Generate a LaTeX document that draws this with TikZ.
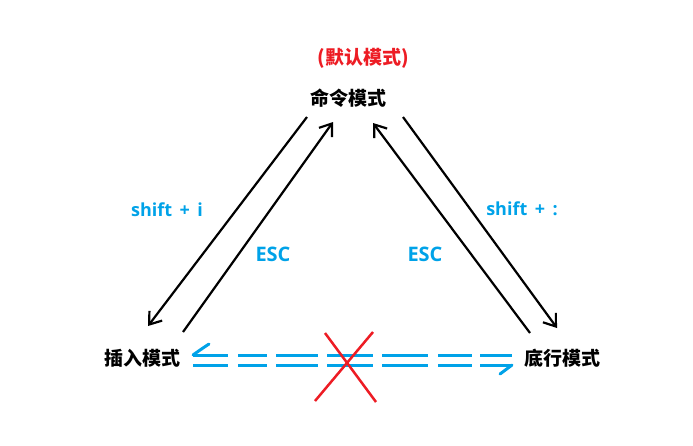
\documentclass[tikz,border=0pt]{standalone}
\usepackage{fontspec}
\setmainfont{Noto Sans CJK SC}
\newfontfamily\keyfont{Open Sans}[WordSpace=1.6]
\usetikzlibrary{arrows.meta}
\definecolor{keyblue}{RGB}{0,162,232}
\definecolor{crossred}{RGB}{237,28,36}

\begin{document}
\begin{tikzpicture}[x=1pt,y=-1pt]
			\tikzstyle{every node}=[inner sep=0pt]
			\tikzstyle{mode}=[font=\fontsize{19}{22}\bfseries\selectfont]
			\tikzstyle{key}=[text=keyblue,font=\keyfont\fontsize{18}{22}\bfseries\selectfont]
			\tikzstyle{esc}=[text=keyblue,font=\keyfont\fontsize{20}{24}\bfseries\selectfont]
			\tikzstyle{switch}=[line width=2.2pt,-{Straight Barb[length=11pt,width=16pt]}]
			\tikzstyle{nogo}=[keyblue,line width=3pt,dash pattern=on 35 off 10 on 29 off 9 on 42 off 9 on 46 off 9 on 46 off 10 on 34 off 8 on 32]
			\tikzstyle{hook}=[keyblue,line width=3pt,line cap=round]
			\tikzstyle{cross}=[crossred,line width=2.5pt]
			\useasboundingbox (0,0) rectangle (693,445);
			\node[mode,text=crossred] (default) at (363,58) {(默认模式)};
			\node[mode] (cmd) at (348,98) {命令模式};
			\node[mode] (ins) at (142,358) {插入模式};
			\node[mode] (bot) at (562,358) {底行模式};
			\node[key] (toins) at (167,210) {shift + i};
			\node[esc] (escl) at (273,254) {ESC};
			\node[key] (tobot) at (522,209) {shift + :};
			\node[esc] (escr) at (425,254) {ESC};
			\coordinate (cmdl) at (307,117);
			\coordinate (cmdli) at (333,122);
			\coordinate (cmdri) at (373,123);
			\coordinate (cmdr) at (403,117);
			\coordinate (insl) at (148,326);
			\coordinate (insli) at (183,332);
			\coordinate (botri) at (530,333);
			\coordinate (botr) at (557,328);
			\draw[switch] (cmdl) -- (insl);
			\draw[switch] (insli) -- (cmdli);
			\draw[switch] (botri) -- (cmdri);
			\draw[switch] (cmdr) -- (botr);
			\coordinate (a1) at (193,355);
			\coordinate (b1) at (512,355);
			\coordinate (a2) at (193,365);
			\coordinate (b2) at (512,365);
			\draw[nogo] (a1) -- (b1);
			\draw[nogo] (a2) -- (b2);
			\draw[hook] (a1) .. controls (200,350) .. (209,344);
			\draw[hook] (b2) -- (500,374);
			\draw[cross] (315,401) -- (373,332);
			\draw[cross] (325,333) -- (376,402);
\end{tikzpicture}
\end{document}
